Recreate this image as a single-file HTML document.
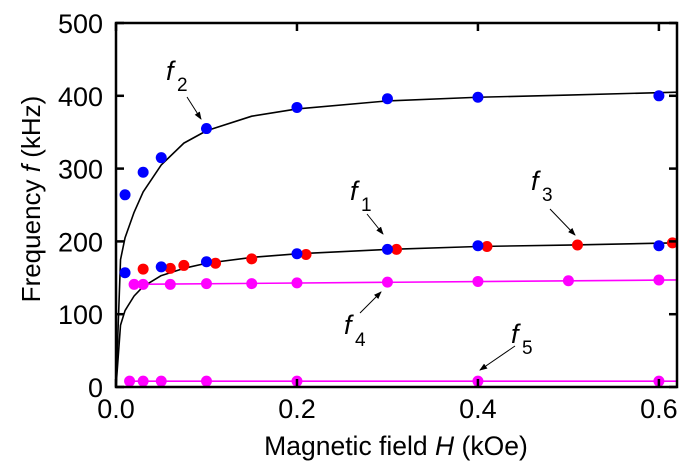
<!DOCTYPE html>
<html><head><meta charset="utf-8"><style>
body{margin:0;background:#fff}
svg{display:block;font-family:"Liberation Sans",Arial,sans-serif}
</style></head><body>
<svg id="chart" width="693" height="472">
<g id="marks"></g>
<g id="axes"></g>
</svg>
<script>
const xTicks=[0,0.2,0.4,0.6];
const xTickLabels=["0.0","0.2","0.4","0.6"];
const yTicks=[0,100,200,300,400,500];
const yTickLabels=["0","100","200","300","400","500"];
const f2FitH=[0,0.005,0.01,0.02,0.03,0.05,0.075,0.1,0.15,0.2,0.3,0.4,0.5,0.62];
const f2FitF=[0,175,205,240,268,305,335,352,372,382,393,398,401,405];
const f1FitH=[0,0.005,0.01,0.02,0.03,0.05,0.075,0.1,0.15,0.2,0.3,0.4,0.5,0.62];
const f1FitF=[0,85,105,125,138,153,163,170,178,183,189,193,195,198];
const blueUpperH=[0.01,0.03,0.05,0.1,0.2,0.3,0.4,0.6];
const blueUpperF=[264,295,315,355,384,396,398,400];
const blueLowerH=[0.01,0.05,0.1,0.2,0.3,0.4,0.6];
const blueLowerF=[157,165,172,183,189,194,194];
const redH=[0.03,0.06,0.075,0.11,0.15,0.21,0.31,0.41,0.51,0.615];
const redF=[162,163,167,170,176,182,189,193,195,198];
const f4H=[0.02,0.03,0.06,0.1,0.15,0.2,0.3,0.4,0.5,0.6];
const f4F=[141,141,141,142,142,143,144,145,146,147];
const f5H=[0.015,0.03,0.05,0.1,0.2,0.4,0.6];
const f5F=[8,8,8,8,8,8,8];

const X0=116,X1=677,XMAX=0.62,Y0=387,Y1=23,YMAX=500;
const sx=v=>X0+(X1-X0)*v/XMAX;
const sy=v=>Y0-(Y0-Y1)*v/YMAX;
const NS="http://www.w3.org/2000/svg";
const marks=document.getElementById('marks'),axes=document.getElementById('axes');
function mk(tag,attrs,parent){const e=document.createElementNS(NS,tag);for(const k in attrs)e.setAttribute(k,attrs[k]);parent.appendChild(e);return e;}
function line(H,F,color,w,name){
  const el=mk('polyline',{points:H.map((h,i)=>sx(h)+','+sy(F[i])).join(' '),fill:'none',stroke:color,'stroke-width':w,'stroke-linejoin':'round'},marks);
  
  
}
function dots(H,F,color,name){
  H.forEach((h,i)=>{
    const c=mk('circle',{cx:sx(h),cy:sy(F[i]),r:5.5,fill:color},marks);
    
    
  });
}
line(f2FitH,f2FitF,'#000',1.6,'f2-fit-curve');
line(f1FitH,f1FitF,'#000',1.6,'f1-fit-curve');
line([f4H[0],XMAX],[f4F[0],f4F[f4F.length-1]],'#ff00ff',1.6,'f4-line');
line([f5H[0],XMAX],[f5F[0],f5F[f5F.length-1]],'#ff00ff',1.6,'f5-line');
dots(f4H,f4F,'#ff00ff','f4-point');
dots(f5H,f5F,'#ff00ff','f5-point');
dots(redH,redF,'#ff0000','f3-point');
dots(blueUpperH,blueUpperF,'#0000ff','f2-point');
dots(blueLowerH,blueLowerF,'#0000ff','f1-point');

const frame=mk('rect',{x:X0,y:Y1,width:X1-X0,height:Y0-Y1,fill:'none',stroke:'#000','stroke-width':2.5},axes);


xTicks.forEach((t,i)=>{
  mk('line',{x1:sx(t),x2:sx(t),y1:Y0,y2:Y0-8,stroke:'#000','stroke-width':2.5},axes);
  mk('line',{x1:sx(t),x2:sx(t),y1:Y1,y2:Y1+8,stroke:'#000','stroke-width':2.5},axes);
  const tx=mk('text',{x:sx(t),y:Y0+31,'font-size':27,'text-anchor':'middle'},axes);
  tx.textContent=xTickLabels[i];
  
  
});
yTicks.forEach((t,i)=>{
  mk('line',{x1:X0,x2:X0+8,y1:sy(t),y2:sy(t),stroke:'#000','stroke-width':2.5},axes);
  mk('line',{x1:X1,x2:X1-8,y1:sy(t),y2:sy(t),stroke:'#000','stroke-width':2.5},axes);
  const tx=mk('text',{x:X0-13,y:sy(t)+10,'font-size':27,'text-anchor':'end'},axes);
  tx.textContent=yTickLabels[i];
  
  
});
</script>
<svg width="693" height="472" style="position:absolute;left:0;top:0" font-family="Liberation Sans, Arial, sans-serif">
<defs><marker id="ah" markerWidth="8" markerHeight="8" refX="7" refY="4" orient="auto"><path d="M0,1 L8,4 L0,7 Z" fill="#000"/></marker></defs>
<text x="396" y="455" font-size="26.5" text-anchor="middle">Magnetic field <tspan font-style="italic">H</tspan> (kOe)</text>
<text transform="translate(40,199) rotate(-90)" font-size="26" text-anchor="middle">Frequency <tspan font-style="italic">f</tspan> (kHz)</text>
<g><text x="166" y="80" font-size="27" font-style="italic">f</text><text x="177" y="91" font-size="19">2</text><line x1="187" y1="97" x2="201" y2="119" stroke="#000" stroke-width="1" marker-end="url(#ah)"/></g>
<g><text x="350" y="200" font-size="27" font-style="italic">f</text><text x="361" y="211" font-size="19">1</text><line x1="367" y1="214" x2="383" y2="234" stroke="#000" stroke-width="1" marker-end="url(#ah)"/></g>
<g><text x="531" y="190" font-size="27" font-style="italic">f</text><text x="542" y="201" font-size="19">3</text><line x1="550" y1="209" x2="575" y2="235" stroke="#000" stroke-width="1" marker-end="url(#ah)"/></g>
<g><text x="344" y="334" font-size="27" font-style="italic">f</text><text x="355" y="346" font-size="19">4</text><line x1="360" y1="313" x2="381" y2="292" stroke="#000" stroke-width="1" marker-end="url(#ah)"/></g>
<g><text x="511" y="343" font-size="27" font-style="italic">f</text><text x="522" y="354" font-size="19">5</text><line x1="515" y1="346" x2="480" y2="370" stroke="#000" stroke-width="1" marker-end="url(#ah)"/></g>
</svg>
</body></html>
